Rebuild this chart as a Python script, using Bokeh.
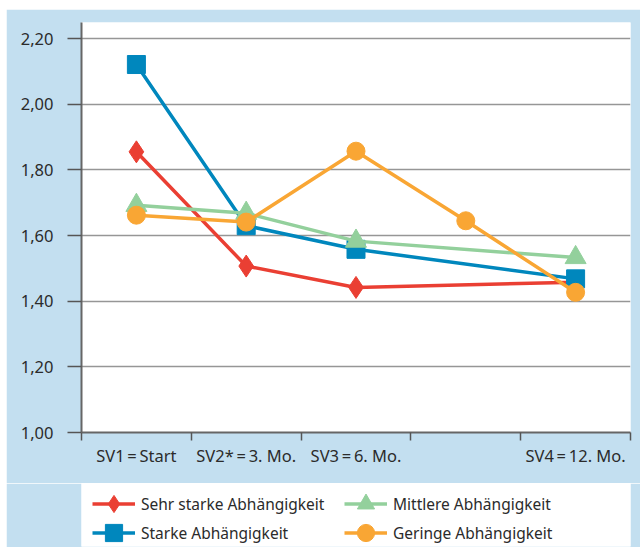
from bokeh.plotting import figure
from bokeh.layouts import column
from bokeh.models import FixedTicker, CustomJSTickFormatter, Legend, LegendItem, Range1d
from bokeh.embed import file_html
from bokeh.resources import INLINE

# data (months after start)
months = [0, 3, 6, 12]
months_geringe = [0, 3, 6, 9, 12]
sehr_starke = [1.855, 1.507, 1.442, 1.458]
starke = [2.121, 1.630, 1.558, 1.468]
mittlere = [1.692, 1.668, 1.583, 1.533]
geringe = [1.662, 1.641, 1.857, 1.645, 1.427]
series_names = ["Sehr starke Abhängigkeit", "Starke Abhängigkeit",
                "Mittlere Abhängigkeit", "Geringe Abhängigkeit"]
x_tick_values = [0, 3, 6, 12]
x_tick_labels = ["SV1\u2009=\u2009Start", "SV2*\u2009=\u20093. Mo.",
                 "SV3\u2009=\u20096. Mo.", "SV4\u2009=\u200912. Mo."]
x_boundaries = [-1.5, 1.5, 4.5, 7.5, 10.5, 13.5]
y_ticks = [1.0, 1.2, 1.4, 1.6, 1.8, 2.0, 2.2]

FONT = "Noto Sans"
BG = "#c3dff0"
TXT = "#2b2b2b"

p = figure(width=634, height=474, output_backend="svg", toolbar_location=None,
           x_range=Range1d(-1.5, 13.5), y_range=Range1d(1.0, 2.249),
           min_border_left=75, min_border_right=3, min_border_top=13,
           min_border_bottom=51)
p.margin = (9, 0, 0, 6)
p.border_fill_color = BG
p.background_fill_color = "white"
p.outline_line_color = None

# axes
p.xaxis.ticker = FixedTicker(ticks=x_tick_values, minor_ticks=x_boundaries)
p.xaxis.major_label_overrides = dict(zip(x_tick_values, x_tick_labels))
p.xaxis.major_tick_line_color = None
p.xaxis.major_tick_out = 8
p.xaxis.major_tick_in = 0
p.xaxis.minor_tick_out = 8
p.xaxis.minor_tick_in = 0
p.xaxis.minor_tick_line_color = "#555555"
p.xaxis.minor_tick_line_width = 1.5
p.xaxis.major_label_standoff = 3

p.yaxis.ticker = FixedTicker(ticks=y_ticks)
p.yaxis.formatter = CustomJSTickFormatter(code="return tick.toFixed(2).replace('.', ',');")
p.yaxis.major_tick_out = 14
p.yaxis.major_tick_in = 0
p.yaxis.minor_tick_line_color = None
p.yaxis.major_tick_line_color = "#555555"
p.yaxis.major_tick_line_width = 1.5
p.yaxis.major_label_standoff = 14

for ax in (p.xaxis, p.yaxis):
    ax.axis_line_color = "#666666"
    ax.axis_line_width = 2
    ax.major_label_text_font = FONT
    ax.major_label_text_font_size = "16.5px"
    ax.major_label_text_color = TXT

p.xgrid.grid_line_color = None
p.ygrid.ticker = FixedTicker(ticks=y_ticks)
p.ygrid.grid_line_color = "#969696"
p.ygrid.grid_line_width = 1.3

# series
specs = [
    (months, sehr_starke, "#ea3f33", "diamond", 22),
    (months, starke, "#0087bd", "square", 18),
    (months, mittlere, "#93d09c", "triangle", 21),
    (months_geringe, geringe, "#f9a634", "circle", 18),
]
for (xs, ys, col, mk, sz) in specs:
    p.line(xs, ys, line_color=col, line_width=3.5)
    p.scatter(xs, ys, marker=mk, size=sz, fill_color=col, line_color=col)

# legend panel (white box below the chart); its renderers lie outside its view
lg = figure(width=634, height=64, output_backend="svg", toolbar_location=None,
            x_range=Range1d(0, 1), y_range=Range1d(-1, 0),
            min_border_left=73, min_border_right=10, min_border_top=0,
            min_border_bottom=1)
lg.margin = (0, 0, 0, 6)
lg.border_fill_color = BG
lg.background_fill_color = "white"
lg.outline_line_color = None
lg.axis.visible = False
lg.grid.grid_line_color = None

items = []
for (xs, ys, col, mk, sz), name in zip(specs, series_names):
    ln = lg.line(xs, ys, line_color=col, line_width=3.5)
    sc = lg.scatter(xs, ys, marker=mk, size=sz, fill_color=col, line_color=col)
    items.append(LegendItem(label=name, renderers=[ln, sc]))

common = dict(orientation="horizontal", glyph_width=43, glyph_height=43,
              spacing=0, padding=0, label_standoff=6, label_width=203, margin=0,
              label_text_font=FONT, label_text_font_size="15.5px",
              label_text_color=TXT, background_fill_alpha=0,
              border_line_color=None)
row1 = Legend(items=[items[0], items[2]], location=(11, 21), **common)
row2 = Legend(items=[items[1], items[3]], location=(11, -8), **common)
lg.add_layout(row1, "center")
lg.add_layout(row2, "center")

layout = column(p, lg, spacing=0)
open("out.html", "w").write(file_html(layout, INLINE))
